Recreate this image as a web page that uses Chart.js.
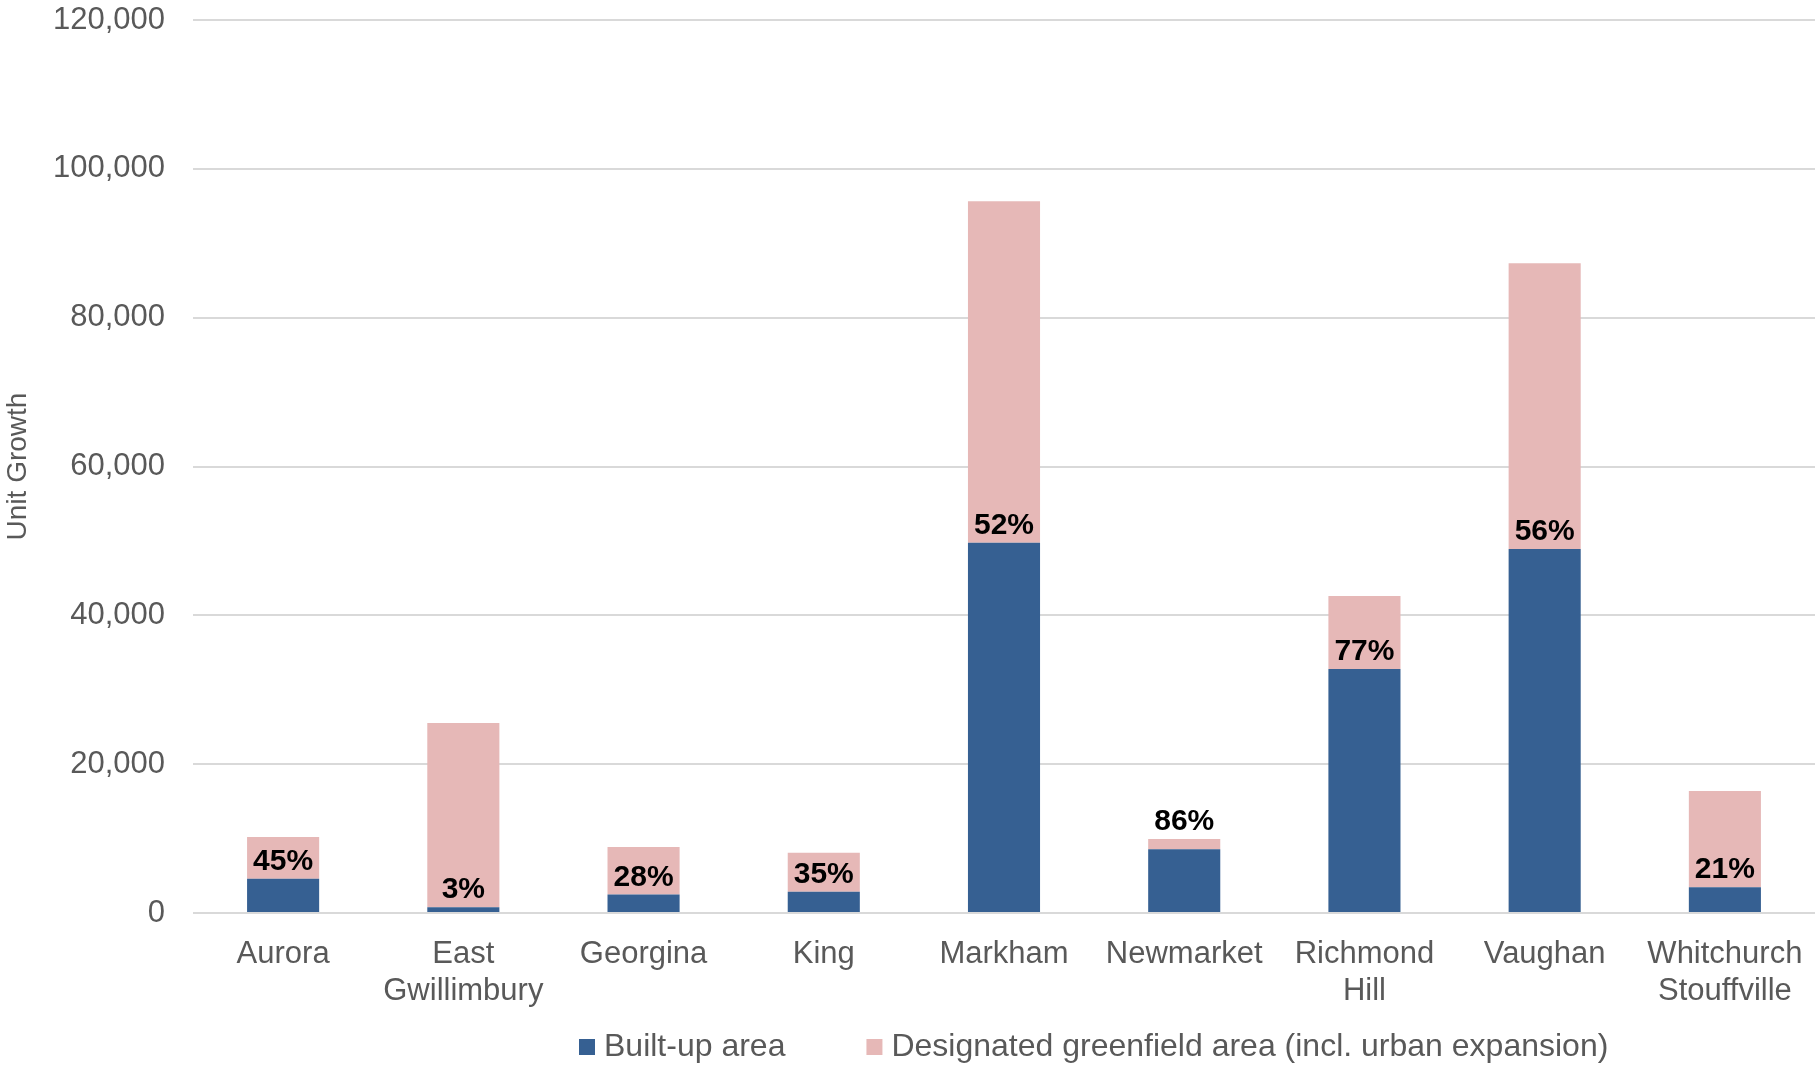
<!DOCTYPE html>
<html>
<head>
<meta charset="utf-8">
<title>Unit Growth by Municipality</title>
<script src="https://cdn.jsdelivr.net/npm/chart.js@4.4.1/dist/chart.umd.min.js"></script>
<style>
  html, body { margin: 0; padding: 0; background: #ffffff; }
  #wrap { width: 1816px; height: 1067px; }
</style>
</head>
<body>
<div id="wrap"><canvas id="chart" width="1816" height="1067"></canvas></div>
<script>
// Municipalities (multi-line names are split into lines)
const municipalities = [
  'Aurora',
  ['East', 'Gwillimbury'],
  'Georgina',
  'King',
  'Markham',
  'Newmarket',
  ['Richmond', 'Hill'],
  'Vaughan',
  ['Whitchurch', 'Stouffville']
];

// Unit growth within the built-up area
const builtUpUnits = [4600, 770, 2480, 2840, 49750, 8550, 32800, 48900, 3450];

// Unit growth within the designated greenfield area (incl. urban expansion)
const greenfieldUnits = [5600, 24760, 6390, 5260, 45900, 1400, 9800, 38400, 12950];

// Share of growth in the built-up area, percent
const builtUpShare = [45, 3, 28, 35, 52, 86, 77, 56, 21];

// Value axis ticks
const yTickValues = [0, 20000, 40000, 60000, 80000, 100000, 120000];

const seriesNames = ['Built-up area', 'Designated greenfield area (incl. urban expansion)'];
const seriesColors = ['#366092', '#E6B8B7'];

const FONT = '"Liberation Sans", Arial, Helvetica, sans-serif';
const GREY = '#595959';

// Percentage labels sitting just above the built-up segment
const shareLabels = {
  id: 'shareLabels',
  afterDatasetsDraw(chart) {
    const built = chart.getDatasetMeta(0).data;
    const total = chart.getDatasetMeta(1).data;
    const ctx = chart.ctx;
    ctx.save();
    ctx.font = 'bold 30px ' + FONT;
    ctx.fillStyle = '#000000';
    ctx.textAlign = 'center';
    ctx.textBaseline = 'alphabetic';
    builtUpShare.forEach((pct, i) => {
      const b = built[i], t = total[i];
      const segment = b.y - t.y;
      const y = segment < 30 ? t.y - 9 : b.y - 9;
      ctx.fillText(pct + '%', b.x, y);
    });
    ctx.restore();
  }
};

// Single-row legend under the category labels
const legendRow = {
  id: 'legendRow',
  afterDraw(chart, args, opts) {
    const ctx = chart.ctx;
    ctx.save();
    ctx.font = '32px ' + FONT;
    ctx.textBaseline = 'middle';
    ctx.textAlign = 'left';
    let x = opts.x;
    const y = opts.y;
    chart.data.datasets.forEach((ds, i) => {
      ctx.fillStyle = ds.backgroundColor;
      ctx.fillRect(x, y - 8, 16, 16);
      x += 16 + 9;
      ctx.fillStyle = GREY;
      ctx.fillText(ds.label, x, y);
      x += ctx.measureText(ds.label).width + opts.gap;
    });
    ctx.restore();
  }
};

new Chart(document.getElementById('chart'), {
  type: 'bar',
  data: {
    labels: municipalities,
    datasets: [
      {
        label: seriesNames[0],
        data: builtUpUnits,
        backgroundColor: seriesColors[0],
        borderWidth: 0,
        barPercentage: 0.4,
        categoryPercentage: 1.0
      },
      {
        label: seriesNames[1],
        data: greenfieldUnits,
        backgroundColor: seriesColors[1],
        borderWidth: 0,
        barPercentage: 0.4,
        categoryPercentage: 1.0
      }
    ]
  },
  options: {
    responsive: false,
    animation: false,
    layout: { padding: { left: 0, right: 1, top: 20, bottom: 54 } },
    plugins: {
      legend: { display: false },
      tooltip: { enabled: false },
      legendRow: { x: 579, y: 1047, gap: 81 }
    },
    scales: {
      x: {
        stacked: true,
        grid: { display: false, drawTicks: false },
        border: { display: false },
        ticks: {
          color: GREY,
          font: { family: FONT, size: 31, lineHeight: 1.2 },
          padding: 23,
          maxRotation: 0,
          autoSkip: false
        },
        afterFit(scale) {
          scale.height = 100;
          scale.paddingLeft = 0;
          scale.paddingRight = 0;
        }
      },
      y: {
        stacked: true,
        min: 0,
        max: 120000,
        afterBuildTicks(scale) {
          scale.ticks = yTickValues.map(v => ({ value: v }));
        },
        grid: { color: '#D9D9D9', lineWidth: 2, drawTicks: false },
        border: { display: false },
        ticks: {
          color: GREY,
          font: { family: FONT, size: 31 },
          padding: 28,
          callback: v => Number(v).toLocaleString('en-US')
        },
        title: {
          display: true,
          text: 'Unit Growth',
          color: GREY,
          font: { family: FONT, size: 28 },
          padding: { top: 1, bottom: 0 }
        },
        afterFit(scale) {
          scale.width = 193;
          scale.paddingTop = 0;
          scale.paddingBottom = 0;
        }
      }
    }
  },
  plugins: [shareLabels, legendRow]
});
</script>
</body>
</html>
